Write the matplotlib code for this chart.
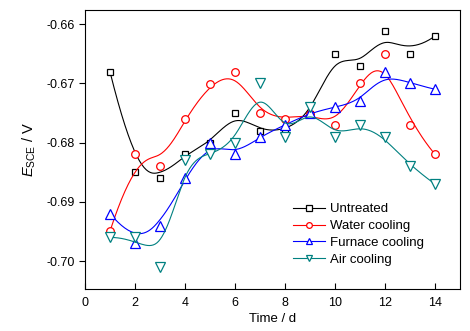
import numpy as np
import matplotlib
matplotlib.use('Agg')
import matplotlib.pyplot as plt

days = [1, 2, 3, 4, 5, 6, 7, 8, 9, 10, 11, 12, 13, 14]
untreated = [-0.6681, -0.6850, -0.6860, -0.6820, -0.6800, -0.6750, -0.6780,
             -0.6780, -0.6752, -0.6650, -0.6671, -0.6611, -0.6650, -0.6620]
water = [-0.6949, -0.6820, -0.6840, -0.6760, -0.6701, -0.6681, -0.6750,
         -0.6760, -0.6752, -0.6770, -0.6700, -0.6651, -0.6770, -0.6820]
furnace = [-0.6920, -0.6970, -0.6940, -0.6860, -0.6800, -0.6820, -0.6790,
           -0.6770, -0.6750, -0.6740, -0.6730, -0.6680, -0.6700, -0.6710]
air = [-0.6960, -0.6960, -0.7010, -0.6830, -0.6820, -0.6800, -0.6700,
       -0.6790, -0.6740, -0.6790, -0.6770, -0.6790, -0.6840, -0.6870]

labels = ['Untreated', 'Water cooling', 'Furnace cooling', 'Air cooling']
colors = ['black', 'red', 'blue', '#008080']
markers = ['s', 'o', '^', 'v']
msizes = [5, 5.5, 6.5, 6.5]
xticks = [0, 2, 4, 6, 8, 10, 12, 14]
yticks = [-0.66, -0.67, -0.68, -0.69, -0.70]


def bspline(px, py, n=400):
    # clamped uniform cubic B-spline using the data as control points
    cp = np.column_stack([px, py]).astype(float)
    k = 3
    m = len(cp)
    inner = np.arange(1, m - k)
    knots = np.concatenate([np.zeros(k + 1), inner, np.full(k + 1, m - k)]).astype(float)
    t = np.linspace(0, m - k, n)
    t[-1] -= 1e-9
    # Cox-de Boor
    B = np.zeros((n, len(knots) - 1))
    for i in range(len(knots) - 1):
        B[:, i] = (t >= knots[i]) & (t < knots[i + 1])
    for d in range(1, k + 1):
        Bn = np.zeros((n, len(knots) - 1 - d))
        for i in range(len(knots) - 1 - d):
            a = 0.0
            den1 = knots[i + d] - knots[i]
            den2 = knots[i + d + 1] - knots[i + 1]
            if den1 > 0:
                a = (t - knots[i]) / den1 * B[:, i]
            b = 0.0
            if den2 > 0:
                b = (knots[i + d + 1] - t) / den2 * B[:, i + 1]
            Bn[:, i] = a + b
        B = Bn
    pts = B @ cp
    return pts[:, 0], pts[:, 1]


plt.rcParams['font.family'] = ['Liberation Sans', 'DejaVu Sans']
plt.rcParams['mathtext.fontset'] = 'custom'
plt.rcParams['mathtext.rm'] = 'Liberation Sans'
plt.rcParams['mathtext.it'] = 'Liberation Sans:italic'

fig = plt.figure(figsize=(4.7, 3.31), dpi=100)
ax = fig.add_axes([0.181, 0.127, 0.798, 0.843])

series = [untreated, water, furnace, air]
for vals, lab, c, mk, ms in zip(series, labels, colors, markers, msizes):
    sx, sy = bspline(days, vals)
    ax.plot(sx, sy, color=c, lw=0.8)
    ax.plot(days, vals, ls='none', marker=mk, ms=ms, mfc='white', mec=c, mew=0.9)
    ax.plot([], [], color=c, lw=0.8, marker=mk, ms=ms * 0.75, mfc='white', mec=c,
            mew=0.9, label=lab)

ax.set_xlim(0, 15)
ax.set_ylim(-0.7047, -0.6576)
ax.set_xticks(xticks)
ax.set_yticks(yticks)
ax.set_yticklabels(['%.2f' % v for v in yticks])
ax.tick_params(axis='x', direction='in', length=4, labelsize=9, pad=6)
ax.tick_params(axis='y', direction='out', length=4, labelsize=9)
ax.set_xlabel('Time / d', fontsize=9.5, labelpad=3)
ax.set_ylabel(r'$E_{\rm SCE}$ / V', fontsize=10.5, labelpad=6)

h, l = ax.get_legend_handles_labels()
ax.legend(h[-4:], l[-4:], loc='lower right', bbox_to_anchor=(0.935, 0.04),
          frameon=False, fontsize=9.5, handlelength=2.4, handletextpad=0.4,
          labelspacing=0.35)

fig.savefig('out.png', dpi=100)
